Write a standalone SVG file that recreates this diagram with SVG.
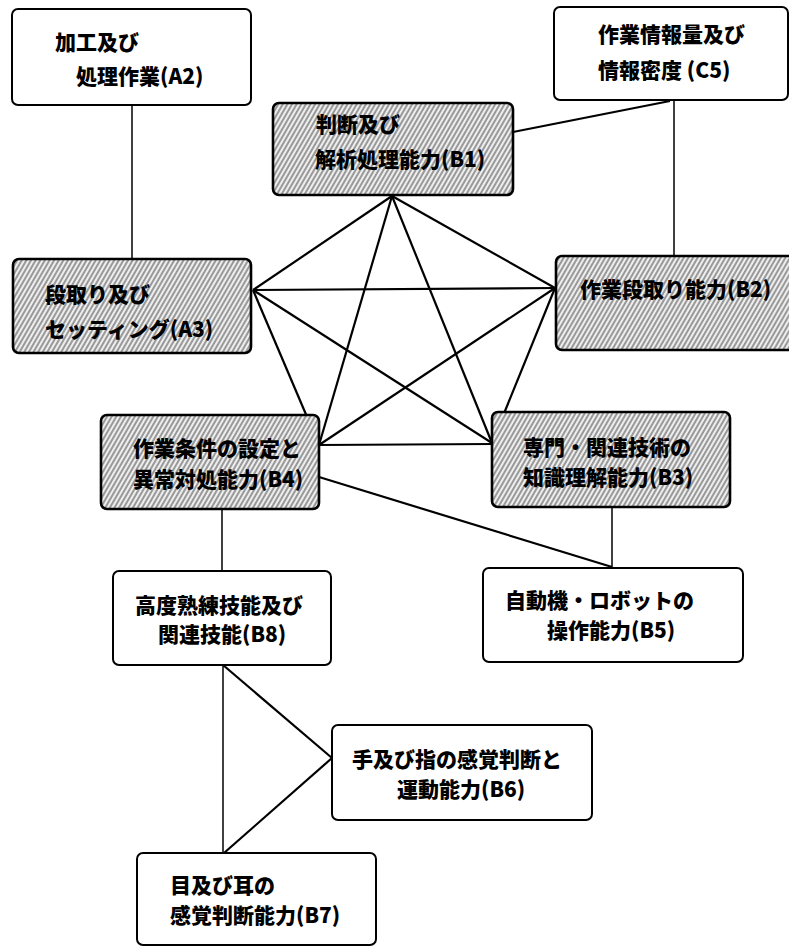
<svg xmlns="http://www.w3.org/2000/svg" width="789" height="947" viewBox="0 0 789 947">
<style>
.box{fill:#fff;stroke:#000;stroke-width:2}
.hbox{fill:url(#hatch);stroke:#000;stroke-width:2.6}
.t{font-family:"Noto Sans CJK JP","Noto Sans CJK SC",sans-serif;font-weight:900;font-size:21px;fill:#000}
.c{stroke:#000;stroke-width:2.2;fill:none}
.v{stroke:#000;stroke-width:1.5;fill:none}
</style>
<defs>
<pattern id="hatch" patternUnits="userSpaceOnUse" width="4" height="4" patternTransform="rotate(30)">
<rect width="4" height="4" fill="#eeeeee"/>
<line x1="1" y1="0" x2="1" y2="4" stroke="#444" stroke-width="1"/>
</pattern>
</defs>
<rect width="789" height="947" fill="#fff"/>
<g id="connectors">
<line class="v" x1="132" y1="105" x2="132" y2="259"/>
<line class="v" x1="674" y1="100" x2="674" y2="256"/>
<line class="c" x1="513" y1="132" x2="670" y2="101"/>
<line class="c" x1="392" y1="196" x2="253" y2="290"/>
<line class="c" x1="392" y1="196" x2="555" y2="288"/>
<line class="c" x1="392" y1="196" x2="319" y2="445"/>
<line class="c" x1="392" y1="196" x2="492" y2="443"/>
<line class="c" x1="253" y1="290" x2="555" y2="288"/>
<line class="c" x1="253" y1="290" x2="319" y2="445"/>
<line class="c" x1="253" y1="290" x2="492" y2="443"/>
<line class="c" x1="555" y1="288" x2="319" y2="445"/>
<line class="c" x1="555" y1="288" x2="492" y2="443"/>
<line class="c" x1="319" y1="445" x2="492" y2="444"/>
<line class="c" x1="319" y1="477" x2="612" y2="567"/>
<line class="v" x1="612" y1="507" x2="612" y2="568"/>
<line class="v" x1="222" y1="509" x2="222" y2="571"/>
<line class="v" x1="223" y1="665" x2="223" y2="853"/>
<line class="c" x1="223" y1="665" x2="332" y2="758"/>
<line class="c" x1="332" y1="758" x2="224" y2="853"/>
</g>
<g id="A2">
<rect class="box" x="12" y="9" width="239" height="96" rx="6"/>
<text class="t" x="55" y="50">加工及び</text>
<text class="t" x="76" y="84">処理作業(A2)</text>
</g>
<g id="C5">
<rect class="box" x="554" y="7" width="234" height="93" rx="6"/>
<text class="t" x="598" y="42">作業情報量及び</text>
<text class="t" x="598" y="78">情報密度 (C5)</text>
</g>
<g id="B1">
<rect class="hbox" x="273" y="103" width="240" height="92" rx="6"/>
<text class="t" x="316" y="132">判断及び</text>
<text class="t" x="315" y="167">解析処理能力(B1)</text>
</g>
<g id="A3">
<rect class="hbox" x="13" y="259" width="238" height="94" rx="6"/>
<text class="t" x="45" y="302">段取り及び</text>
<text class="t" x="45" y="337">セッティング(A3)</text>
</g>
<g id="B2">
<rect class="hbox" x="556" y="256" width="250" height="94" rx="6"/>
<text class="t" x="580" y="297">作業段取り能力(B2)</text>
</g>
<g id="B4">
<rect class="hbox" x="101" y="415" width="218" height="94" rx="6"/>
<text class="t" x="133" y="456">作業条件の設定と</text>
<text class="t" x="133" y="487">異常対処能力(B4)</text>
</g>
<g id="B3">
<rect class="hbox" x="492" y="412" width="238" height="95" rx="6"/>
<text class="t" x="523" y="455">専門・関連技術の</text>
<text class="t" x="523" y="485">知識理解能力(B3)</text>
</g>
<g id="B8">
<rect class="box" x="113" y="571" width="218" height="94" rx="6"/>
<text class="t" x="135" y="613">高度熟練技能及び</text>
<text class="t" x="158" y="642">関連技能(B8)</text>
</g>
<g id="B5">
<rect class="box" x="483" y="568" width="260" height="94" rx="6"/>
<text class="t" x="505" y="608">自動機・ロボットの</text>
<text class="t" x="547" y="638">操作能力(B5)</text>
</g>
<g id="B6">
<rect class="box" x="332" y="725" width="260" height="95" rx="6"/>
<text class="t" x="352" y="767">手及び指の感覚判断と</text>
<text class="t" x="397" y="797">運動能力(B6)</text>
</g>
<g id="B7">
<rect class="box" x="137" y="853" width="239" height="92" rx="6"/>
<text class="t" x="170" y="893">目及び耳の</text>
<text class="t" x="170" y="923">感覚判断能力(B7)</text>
</g>
</svg>
